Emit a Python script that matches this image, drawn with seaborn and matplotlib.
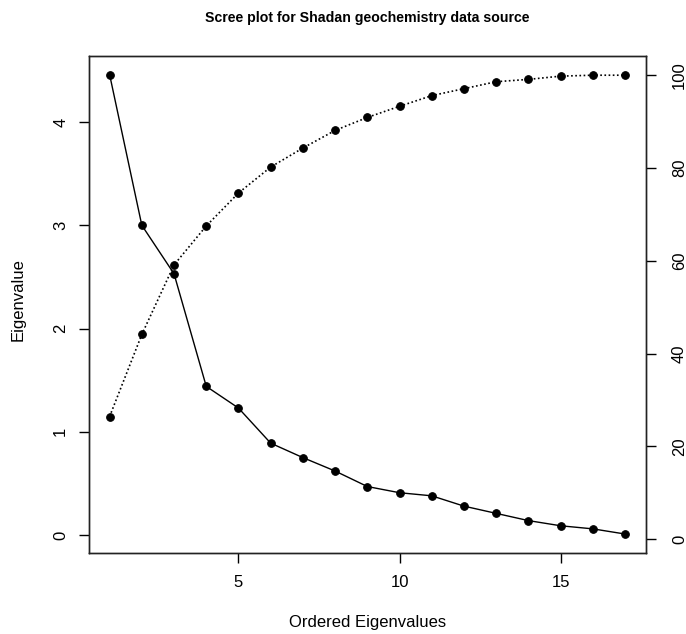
import matplotlib
matplotlib.use("Agg")
import matplotlib.pyplot as plt
import seaborn as sns
import pandas as pd

# 固有値と累積寄与率
components = [1, 2, 3, 4, 5, 6, 7, 8, 9, 10, 11, 12, 13, 14, 15, 16, 17]
eigenvalues = [4.46, 3.00, 2.53, 1.44, 1.23, 0.89, 0.75, 0.62, 0.47,
               0.41, 0.38, 0.28, 0.21, 0.14, 0.09, 0.06, 0.01]
cumulative_pct = [26.4, 44.1, 59.1, 67.5, 74.6, 80.2, 84.3, 88.1, 90.9,
                  93.3, 95.6, 97.1, 98.6, 99.1, 99.8, 100.0, 100.0]

x_ticks = [5, 10, 15]
left_ticks = [0, 1, 2, 3, 4]
right_ticks = [0, 20, 40, 60, 80, 100]

df = pd.DataFrame({"comp": components, "eig": eigenvalues, "cum": cumulative_pct})

sns.set_style("ticks")
plt.rcParams["font.family"] = ["Liberation Sans", "DejaVu Sans"]
plt.rcParams["text.color"] = "black"
plt.rcParams["xtick.color"] = "black"
plt.rcParams["ytick.color"] = "black"

fig = plt.figure(figsize=(6.86, 6.34), dpi=100)
ax = fig.add_axes([0.1297, 0.1282, 0.8116, 0.7839])

# 固有値（実線）
sns.lineplot(data=df, x="comp", y="eig", ax=ax, color="black", linewidth=1,
             marker="o", markersize=5.5, markeredgecolor="black")

# 累積寄与率（点線、右軸）
ax2 = ax.twinx()
sns.lineplot(data=df, x="comp", y="cum", ax=ax2, color="black", linewidth=1.2,
             linestyle=(0, (1, 1.5)), marker="o", markersize=5.5,
             markeredgecolor="black")

ax.set_xlim(0.36, 17.64)
ax.set_ylim(-0.171, 4.642)
ax2.set_ylim(-2.95, 104.2)

ax.set_xticks(x_ticks)
ax.set_yticks(left_ticks)
ax2.set_yticks(right_ticks)

for a in (ax, ax2):
    a.set_xlabel("")
    a.set_ylabel("")
    for s in a.spines.values():
        s.set_visible(True)
        s.set_linewidth(1)
        s.set_color("#222222")

ax.tick_params(axis="x", direction="out", length=7, width=1, labelsize=12,
               pad=9, colors="black")
ax.tick_params(axis="y", direction="out", length=7, width=1, labelsize=12,
               pad=8, labelrotation=90, colors="black")
ax2.tick_params(axis="y", direction="out", length=7, width=1, labelsize=12,
                pad=12, labelrotation=90, colors="black")
for lab in ax.get_yticklabels() + ax2.get_yticklabels():
    lab.set_va("center")

fig.text(367.5 / 686, 1 - 18 / 634, "Scree plot for Shadan geochemistry data source",
         ha="center", va="center", fontsize=10.2, fontweight="bold", color="black")
fig.text(18 / 686, 1 - 300 / 634, "Eigenvalue", rotation=90,
         ha="center", va="center", fontsize=12, color="black")
fig.text(367.5 / 686, 1 - 622 / 634, "Ordered Eigenvalues",
         ha="center", va="center", fontsize=12, color="black")

fig.savefig("out.png", dpi=100)
